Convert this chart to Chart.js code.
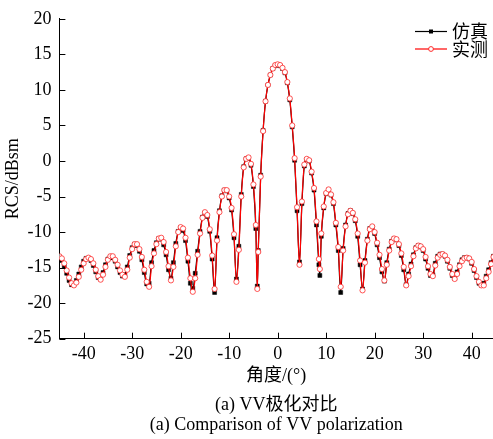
<!DOCTYPE html>
<html>
<head>
<meta charset="utf-8">
<script src="https://cdn.jsdelivr.net/npm/chart.js@4.4.1/dist/chart.umd.min.js"></script>
<style>
  html, body { margin: 0; padding: 0; background: #fff; }
  #wrap { width: 493px; height: 439px; position: relative; }
</style>
</head>
<body>
<div id="wrap"><canvas id="rcs"></canvas></div>
<script>
// angle (deg)
var angles = [
  -45, -44.5, -44, -43.5, -43, -42.5, -42, -41.5, -41, -40.5,
  -40, -39.5, -39, -38.5, -38, -37.5, -37, -36.5, -36, -35.5,
  -35, -34.5, -34, -33.5, -33, -32.5, -32, -31.5, -31, -30.5,
  -30, -29.5, -29, -28.5, -28, -27.5, -27, -26.5, -26, -25.5,
  -25, -24.5, -24, -23.5, -23, -22.5, -22, -21.5, -21, -20.5,
  -20, -19.5, -19, -18.5, -18, -17.5, -17, -16.5, -16, -15.5,
  -15, -14.5, -14, -13.5, -13, -12.5, -12, -11.5, -11, -10.5,
  -10, -9.5, -9, -8.5, -8, -7.5, -7, -6.5, -6, -5.5,
  -5, -4.5, -4.2, -4, -3.5, -3, -2.5, -2, -1.5, -1,
  -0.5, 0, 0.5, 1, 1.5, 2, 2.5, 3, 3.5, 4,
  4.5, 5, 5.5, 6, 6.5, 7, 7.5, 8, 8.5, 8.7,
  9, 9.5, 10, 10.5, 11, 11.5, 12, 12.5, 13, 13.5,
  14, 14.5, 15, 15.5, 16, 16.5, 17, 17.5, 18, 18.5,
  19, 19.5, 20, 20.5, 21, 21.5, 22, 22.5, 23, 23.5,
  24, 24.5, 25, 25.5, 26, 26.5, 27, 27.5, 28, 28.5,
  29, 29.5, 30, 30.5, 31, 31.5, 32, 32.5, 33, 33.5,
  34, 34.5, 35, 35.5, 36, 36.5, 37, 37.5, 38, 38.5,
  39, 39.5, 40, 40.5, 41, 41.5, 42, 42.5, 43, 43.5,
  44, 44.5, 45
];

// 仿真 (dBsm)
var simulated = [
  -13.5, -14.0, -14.8, -15.8, -16.8, -17.4, -17.4, -16.8, -15.9, -14.9,
  -14.1, -13.7, -13.7, -14.0, -14.7, -15.6, -16.4, -16.6, -15.7, -14.6,
  -13.8, -13.5, -13.6, -14.1, -14.9, -15.7, -16.2, -16.0, -14.9, -13.3,
  -12.2, -11.7, -11.9, -12.7, -13.9, -15.7, -17.3, -17.2, -14.3, -12.6,
  -11.5, -10.9, -11.0, -11.8, -13.2, -15.3, -16.5, -14.3, -11.6, -9.9,
  -9.4, -9.8, -11.2, -14.1, -17.2, -17.9, -15.8, -12.7, -9.9, -7.9,
  -7.3, -7.8, -9.9, -13.8, -18.5, -10.8, -7.0, -4.9, -4.1, -4.2,
  -5.2, -6.9, -10.8, -16.6, -12.0, -4.7, -0.8, 0.3, 0.4, -0.6,
  -3.6, -9.5, -17.6, -12.6, -2.0, 4.3, 8.4, 10.7, 12.1, 13.0,
  13.4, 13.5, 13.4, 13.0, 12.4, 11.0, 8.6, 4.8, 0.1, -7.0,
  -14.2, -6.0, -0.7, 0.2, 0.0, -1.7, -4.1, -9.0, -14.6, -16.1,
  -10.6, -6.6, -4.6, -4.1, -4.8, -6.0, -9.0, -12.6, -18.5, -12.3,
  -9.0, -7.4, -7.0, -7.4, -8.4, -10.6, -14.6, -18.0, -14.0, -11.0,
  -9.5, -9.3, -10.2, -11.8, -13.6, -15.6, -16.9, -14.3, -12.4, -11.3,
  -10.9, -11.1, -11.9, -13.3, -15.3, -17.4, -15.9, -14.5, -13.2, -12.2,
  -11.9, -12.1, -12.6, -13.8, -15.1, -16.1, -16.0, -14.4, -13.4, -13.1,
  -13.1, -13.4, -14.1, -15.1, -16.1, -16.5, -15.6, -14.6, -13.9, -13.6,
  -13.6, -13.8, -14.4, -15.4, -16.4, -17.2, -17.5, -17.2, -16.2, -15.3,
  -14.3, -13.4, -12.8
];

// 实测 (dBsm)
var measured = [
  -13.4, -13.7, -14.4, -15.4, -16.4, -17.2, -17.5, -17.1, -16.3, -15.3,
  -14.4, -13.8, -13.6, -13.8, -14.4, -15.3, -16.2, -16.7, -16.0, -14.9,
  -13.9, -13.4, -13.4, -13.9, -14.6, -15.4, -16.0, -16.3, -15.3, -13.6,
  -12.4, -11.7, -11.7, -12.4, -13.5, -15.3, -17.0, -17.7, -14.8, -13.0,
  -11.7, -10.9, -10.8, -11.4, -12.8, -14.8, -16.8, -14.9, -12.0, -10.0,
  -9.3, -9.5, -10.8, -13.6, -16.5, -18.4, -16.5, -13.2, -10.2, -8.0,
  -7.2, -7.6, -9.6, -13.3, -18.0, -11.2, -7.2, -5.0, -4.1, -4.1,
  -5.0, -6.6, -10.3, -17.0, -12.5, -5.0, -0.9, 0.3, 0.5, -0.4,
  -3.3, -9.0, -18.0, -12.8, -2.2, 4.2, 8.4, 10.7, 12.1, 13.0,
  13.5, 13.6, 13.5, 13.1, 12.5, 11.1, 8.8, 5.0, 0.4, -6.5,
  -14.6, -5.7, -0.5, 0.3, 0.1, -1.5, -3.8, -8.5, -13.8, -15.2,
  -10.2, -6.4, -4.5, -4.0, -4.7, -5.8, -8.7, -12.1, -17.7, -12.6,
  -9.2, -7.5, -7.0, -7.3, -8.2, -10.2, -14.0, -18.2, -14.3, -11.2,
  -9.6, -9.2, -10.0, -11.5, -13.2, -15.2, -16.8, -14.6, -12.6, -11.4,
  -10.9, -11.0, -11.7, -13.0, -14.9, -17.5, -16.2, -14.8, -13.4, -12.3,
  -11.9, -12.0, -12.4, -13.5, -14.8, -15.9, -16.2, -14.7, -13.6, -13.2,
  -13.1, -13.3, -13.9, -14.9, -15.9, -16.6, -15.9, -14.8, -14.1, -13.7,
  -13.6, -13.7, -14.2, -15.2, -16.2, -17.0, -17.5, -17.5, -16.5, -15.6,
  -14.5, -13.5, -12.8
];

var seriesNames = ["仿真", "实测"];
var xTicks = [-40, -30, -20, -10, 0, 10, 20, 30, 40];
var yTicks = [-25, -20, -15, -10, -5, 0, 5, 10, 15, 20];

var serif = "'Liberation Serif', 'Times New Roman', serif";
var mixed = "'Liberation Serif', 'Noto Sans CJK SC', serif";
var cjk = "'Noto Sans CJK SC', sans-serif";

function toPoints(vals) {
  return angles.map(function (a, i) { return { x: a, y: vals[i] }; });
}

// ticks drawn inside the plot, like the original figure
var innerTicks = {
  id: "innerTicks",
  afterDraw: function (chart) {
    var ctx = chart.ctx, area = chart.chartArea;
    var xs = chart.scales.x, ys = chart.scales.y;
    ctx.save();
    ctx.strokeStyle = "#000";
    ctx.lineWidth = 1;
    ctx.beginPath();
    xTicks.forEach(function (v) {
      var p = Math.round(xs.getPixelForValue(v)) + 0.5;
      ctx.moveTo(p, area.bottom);
      ctx.lineTo(p, area.bottom - 6);
    });
    yTicks.forEach(function (v) {
      var p = Math.round(ys.getPixelForValue(v)) + 0.5;
      ctx.moveTo(area.left, p);
      ctx.lineTo(area.left + 6, p);
    });
    ctx.stroke();
    ctx.restore();
  }
};

// legend box in the upper right corner
var cornerLegend = {
  id: "cornerLegend",
  afterDatasetsDraw: function (chart) {
    var ctx = chart.ctx;
    var rows = [31.5, 49];
    ctx.save();
    chart.data.datasets.forEach(function (ds, i) {
      var y = rows[i];
      ctx.strokeStyle = ds.borderColor;
      ctx.lineWidth = 1.2;
      ctx.beginPath();
      ctx.moveTo(415, y);
      ctx.lineTo(447, y);
      ctx.stroke();
      ctx.lineWidth = 1;
      if (ds.pointStyle === "rect") {
        ctx.fillStyle = ds.pointBackgroundColor;
        ctx.fillRect(429, y - 2, 4, 4);
      } else {
        ctx.fillStyle = "#fff";
        ctx.strokeStyle = ds.pointBorderColor;
        ctx.beginPath();
        ctx.arc(431, y, 2.4, 0, Math.PI * 2);
        ctx.fill();
        ctx.stroke();
      }
      ctx.fillStyle = "#000";
      ctx.font = "18px " + cjk;
      ctx.textBaseline = "middle";
      ctx.textAlign = "left";
      ctx.fillText(ds.label, 452, y);
    });
    ctx.restore();
  }
};

var ctx = document.getElementById("rcs").getContext("2d");
var rcsChart = new Chart(ctx, {
  type: "line",
  data: {
    datasets: [
      {
        label: seriesNames[0],
        data: toPoints(simulated),
        borderColor: "#000000",
        borderWidth: 1.2,
        pointStyle: "rect",
        pointRadius: 2.8,
        pointBackgroundColor: "#000000",
        pointBorderColor: "#000000",
        pointBorderWidth: 0.5,
        cubicInterpolationMode: "monotone",
        order: 2,
      },
      {
        label: seriesNames[1],
        data: toPoints(measured),
        borderColor: "#ff0000",
        borderWidth: 1.2,
        pointStyle: "circle",
        pointRadius: 2.6,
        pointBackgroundColor: "#ffffff",
        pointBorderColor: "#ff2a2a",
        pointBorderWidth: 0.8,
        cubicInterpolationMode: "monotone",
        order: 1,
      },
    ],
  },
  options: {
    responsive: true,
    maintainAspectRatio: false,
    animation: false,
    devicePixelRatio: 1,
    layout: { autoPadding: false, padding: { top: 18.5, left: 0, right: 0, bottom: 0 } },
    scales: {
      x: {
        type: "linear",
        min: -45,
        max: 44.4,
        afterBuildTicks: function (s) { s.ticks = xTicks.map(function (v) { return { value: v }; }); },
        afterFit: function (s) { s.height = 57.7; s.paddingRight = 0; s.paddingLeft = 0; },
        grid: { display: false, drawTicks: false },
        border: { display: true, color: "#000", width: 1 },
        ticks: { padding: 5, color: "#000", autoSkip: false, maxRotation: 0, font: { family: serif, size: 18 } },
        title: {
          display: true,
          text: "角度/(°)",
          color: "#000",
          font: { family: mixed, size: 18, lineHeight: 1.2 },
          padding: { top: 0, bottom: 9 },
        },
      },
      y: {
        min: -25,
        max: 20,
        afterBuildTicks: function (s) { s.ticks = yTicks.map(function (v) { return { value: v }; }); },
        afterFit: function (s) { s.width = 59.4; },
        grid: { display: false, drawTicks: false },
        border: { display: true, color: "#000", width: 1 },
        ticks: { padding: 8, color: "#000", font: { family: serif, size: 18 } },
        title: {
          display: true,
          text: "RCS/dBsm",
          color: "#000",
          font: { family: serif, size: 18, lineHeight: 1.2 },
          padding: { top: 2, bottom: 0 },
        },
      },
    },
    plugins: {
      legend: { display: false },
      tooltip: { enabled: false },
      title: {
        display: true,
        position: "bottom",
        fullSize: false,
        text: "(a) Comparison of VV polarization",
        color: "#000",
        font: { family: serif, size: 18, weight: "normal", lineHeight: 1.2 },
        padding: { top: 0, bottom: 3 },
      },
      subtitle: {
        display: true,
        position: "bottom",
        fullSize: false,
        text: "(a) VV极化对比",
        color: "#000",
        font: { family: mixed, size: 18, weight: "normal", lineHeight: 1.0 },
        padding: 0,
      },
    },
  },
  plugins: [innerTicks, cornerLegend],
});
</script>
</body>
</html>
